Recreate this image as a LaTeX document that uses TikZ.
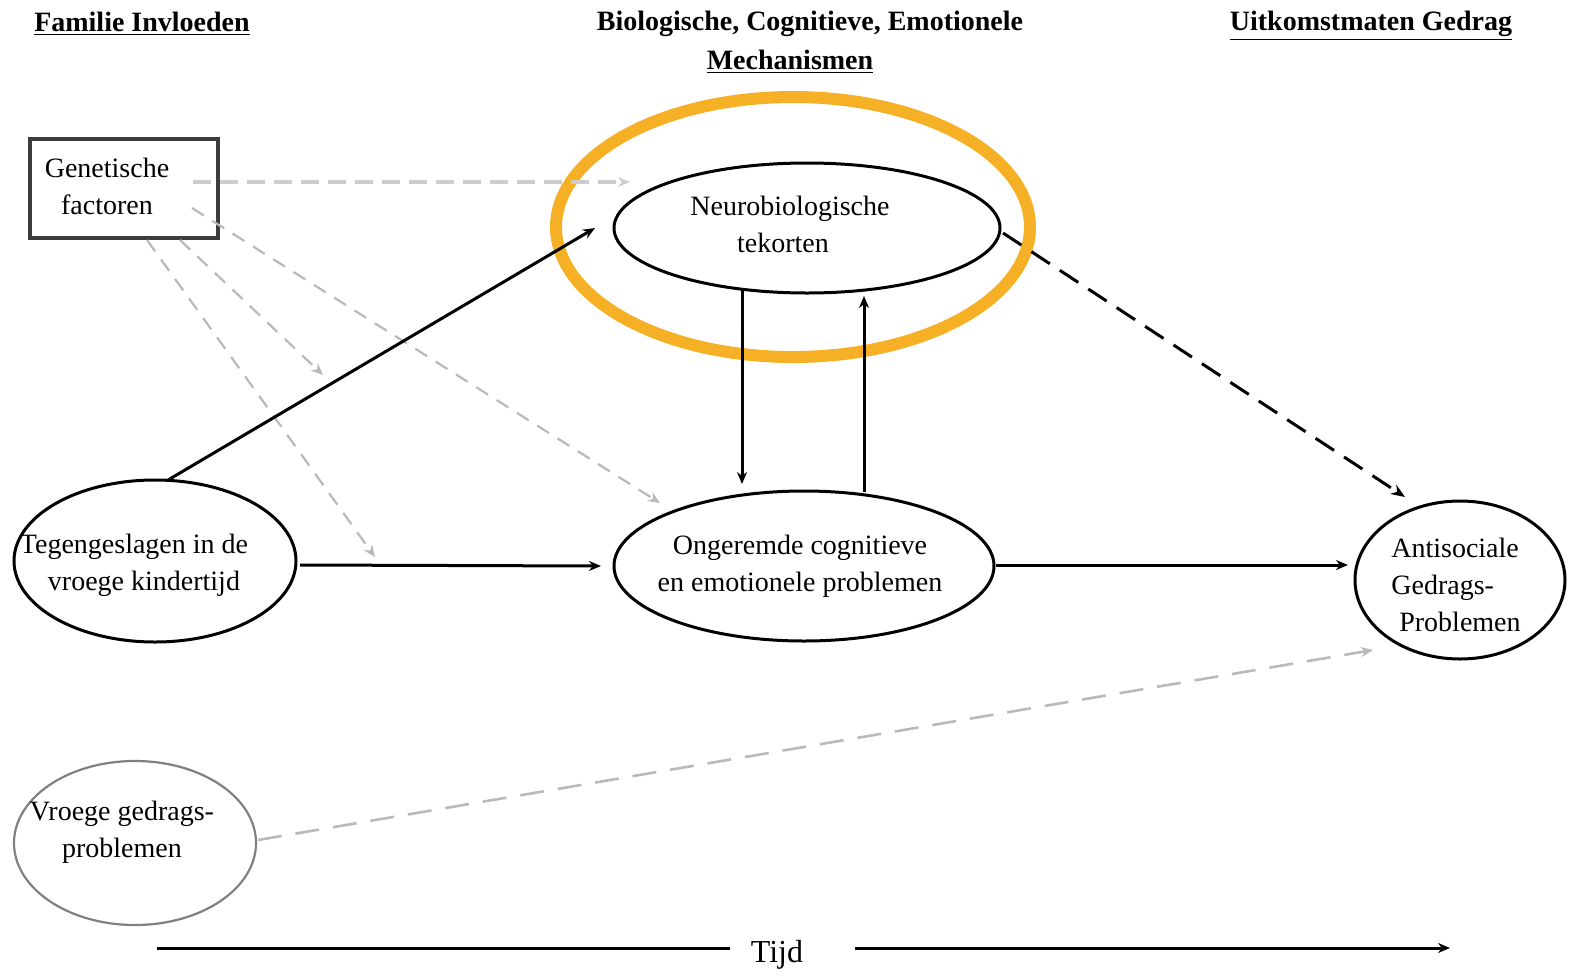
\documentclass[tikz,border=0pt]{standalone}
\usepackage{fontspec}
\setmainfont{Liberation Serif}
\usetikzlibrary{shapes.geometric,arrows.meta}
\definecolor{hl}{RGB}{245,176,38}
\definecolor{lgray}{RGB}{185,185,185}
\definecolor{vlgray}{RGB}{205,205,205}
\definecolor{dgray}{RGB}{60,60,60}
\begin{document}
\begin{tikzpicture}[x=0.5pt,y=-0.5pt,
  every node/.style={font=\fontsize{14}{18.5}\selectfont, align=center, inner sep=0pt},
  hdr/.style={font=\fontsize{14}{19}\selectfont\bfseries},
  oval/.style={ellipse, draw, line width=1.5pt},
  solidarr/.style={line width=1.5pt, -{Stealth[length=6pt,width=5pt]}},
  grayarr/.style={lgray, line width=1.1pt, dash pattern=on 7pt off 5pt, -{Stealth[length=6pt,width=5pt]}},
  blackdash/.style={black, line width=1.5pt, dash pattern=on 11pt off 6pt, -{Stealth[length=7pt,width=5.5pt]}},
  tijdline/.style={line width=1.5pt}
]
\useasboundingbox (0,0) rectangle (1571,976);

% headers
\node[hdr] (h1) at (142,24) {\underline{Familie Invloeden}};
\node[hdr] (h2a) at (810,24) {Biologische, Cognitieve, Emotionele};
\node[hdr] (h2b) at (790,62) {\underline{Mechanismen}};
\node[hdr] (h3) at (1371,26) {\underline{Uitkomstmaten Gedrag}};

% nodes
\node[draw=dgray, line width=1.8pt, minimum width=94pt, minimum height=49.5pt] (gen) at (124,188.5) {};
\node (gentxt) at (107,186) {Genetische\\factoren};

\node[oval, minimum width=193pt, minimum height=65pt] (neuro) at (807,228) {};
\node (neurotxt) at (790,224) {Neurobiologische\\\hspace*{-7pt}tekorten};

\node[ellipse, draw=hl, line width=6pt, minimum width=237pt, minimum height=130pt] (hlt) at (793,227) {};

\node[oval, minimum width=190pt, minimum height=75pt] (onge) at (804,566) {};
\node (ongetxt) at (800,566) {Ongeremde cognitieve\\en emotionele problemen};

\node[oval, minimum width=141pt, minimum height=81pt] (tegen) at (155,561) {};
\node (tegentxt) at (134,565) {Tegengeslagen in de\\\hspace*{10pt}vroege kindertijd};

\node[oval, minimum width=105pt, minimum height=79pt] (anti) at (1460,580) {};
\node[align=left] (antitxt) at (1456,585) {Antisociale\\Gedrags-\\\hspace*{4pt}Problemen};

\node[ellipse, draw=gray, line width=1.1pt, minimum width=121pt, minimum height=82pt] (vroeg) at (135,843) {};
\node (vroegtxt) at (122,832) {Vroege gedrags-\\problemen};

% coordinates for free ends
\coordinate (g1s) at (193,182);
\coordinate (g1e) at (630,182);
\coordinate (g2s) at (192,208);
\coordinate (g2e) at (660,503);
\coordinate (g3s) at (180,240);
\coordinate (g3e) at (323,375);
\coordinate (g4s) at (147,240);
\coordinate (g4e) at (375,557);
\coordinate (t1s) at (168,480);
\coordinate (t1e) at (595,228);
\coordinate (t2s) at (300,565);
\coordinate (t2e) at (601,566);
\coordinate (n1s) at (742,290);
\coordinate (n1e) at (742,484);
\coordinate (n2s) at (864,492);
\coordinate (n2e) at (864,296);
\coordinate (d1s) at (1003,233);
\coordinate (d1e) at (1405,497);
\coordinate (o1s) at (996,565);
\coordinate (o1e) at (1348,565);
\coordinate (v1s) at (258,840);
\coordinate (v1e) at (1373,650);
\coordinate (ts) at (157,948);
\coordinate (tm1) at (730,948);
\coordinate (tm2) at (855,948);
\coordinate (te) at (1450,948);

% gray dashed arrows from genetics
\draw[grayarr, vlgray, line width=1.8pt, dash pattern=on 9pt off 4.5pt] (g1s) -- (g1e);
\draw[grayarr] (g2s) -- (g2e);
\draw[grayarr] (g3s) -- (g3e);
\draw[grayarr] (g4s) -- (g4e);

% solid arrows
\draw[solidarr] (t1s) -- (t1e);
\draw[solidarr] (t2s) -- (t2e);
\draw[solidarr] (n1s) -- (n1e);
\draw[solidarr] (n2s) -- (n2e);
\draw[solidarr] (o1s) -- (o1e);

% black dashed
\draw[blackdash] (d1s) -- (d1e);

% bottom gray dashed
\draw[grayarr, line width=1.3pt, dash pattern=on 12pt off 7pt] (v1s) -- (v1e);

% time axis
\draw[tijdline] (ts) -- (tm1);
\node (tijd) at (777,955) {\fontsize{16}{18}\selectfont Tijd};
\draw[tijdline, -{Stealth[length=6pt,width=5pt]}] (tm2) -- (te);
\end{tikzpicture}
\end{document}
